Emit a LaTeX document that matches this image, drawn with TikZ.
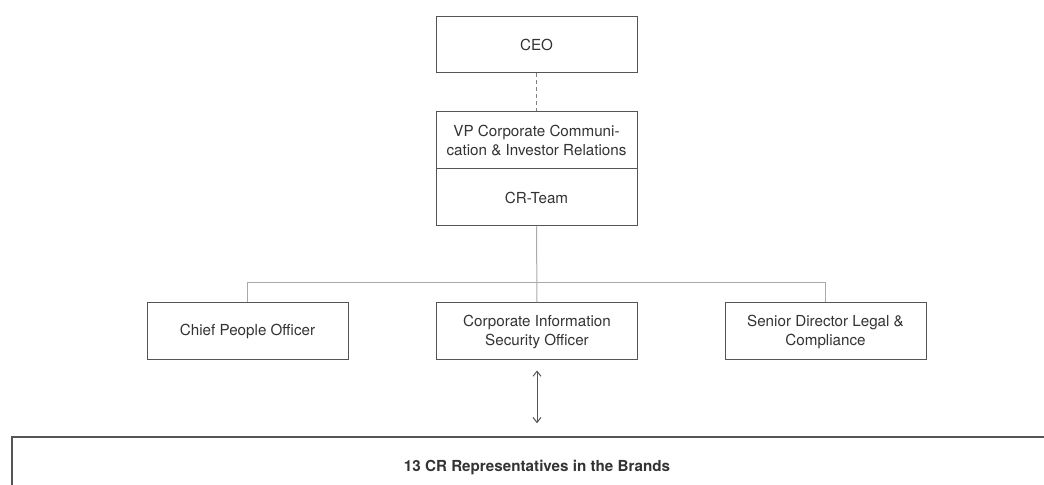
\documentclass[tikz,border=0pt]{standalone}
\usepackage{fontspec}
\setmainfont{TeX Gyre Heros}
\usetikzlibrary{positioning,arrows.meta}

\definecolor{boxline}{HTML}{555555}
\definecolor{connline}{HTML}{AAAAAA}
\definecolor{textcol}{HTML}{333333}

\begin{document}
\begin{tikzpicture}
    [%%%%%%%%%%%%%%%%%%%%%%%%%%%%%%
    x=0.5pt, y=-0.5pt,
    unit/.style={rectangle,draw=boxline,line width=0.5pt,minimum width=100.5pt,minimum height=28.5pt,
        inner sep=0pt,align=center,text=textcol,font=\fontsize{7.6}{9.5}\selectfont},
    conn/.style={draw=connline,line width=0.5pt},
    ]%%%%%%%%%%%%%%%%%%%%%%%%%%%%%%

    \useasboundingbox (0,0) rectangle (1044,485);
    \clip (0,0) rectangle (1044,485);

    % top
    \node[unit,minimum height=28pt] at (536.5,45) (ceo) {CEO};
    \node[unit] at (536.5,140.5) (vp) {VP Corporate Communi-\\cation \& Investor Relations};
    \node[unit] at (536.5,197.5) (crteam) {CR-Team};
    \draw[conn,draw=gray,dash pattern=on 2pt off 1.5pt](ceo) -- (vp);

    % officers
    \node[unit] at (247.5,331.5) (chief) {Chief People Officer};
    \node[unit] at (537,331.5) (ciso) {Corporate Information\\Security Officer};
    \node[unit] at (825.5,331.5) (legal) {Senior Director Legal \&\\Compliance};
    \draw[conn](crteam.south) -- (ciso.north);
    \draw[conn](chief.north) -- ++(0,-20) -| (legal.north);

    % brands
    \node[unit,line width=0.8pt,minimum width=525pt,minimum height=30pt,font=\fontsize{7.6}{9.5}\selectfont\bfseries]
        at (537,467) (brands) {13 CR Representatives in the Brands};
    \draw [{Straight Barb[length=2.5pt,width=4pt]}-{Straight Barb[length=2.5pt,width=4pt]},draw=boxline,line width=0.5pt,
        shorten <=5pt,shorten >=6.5pt](ciso) -- (brands);

\end{tikzpicture}
\end{document}
